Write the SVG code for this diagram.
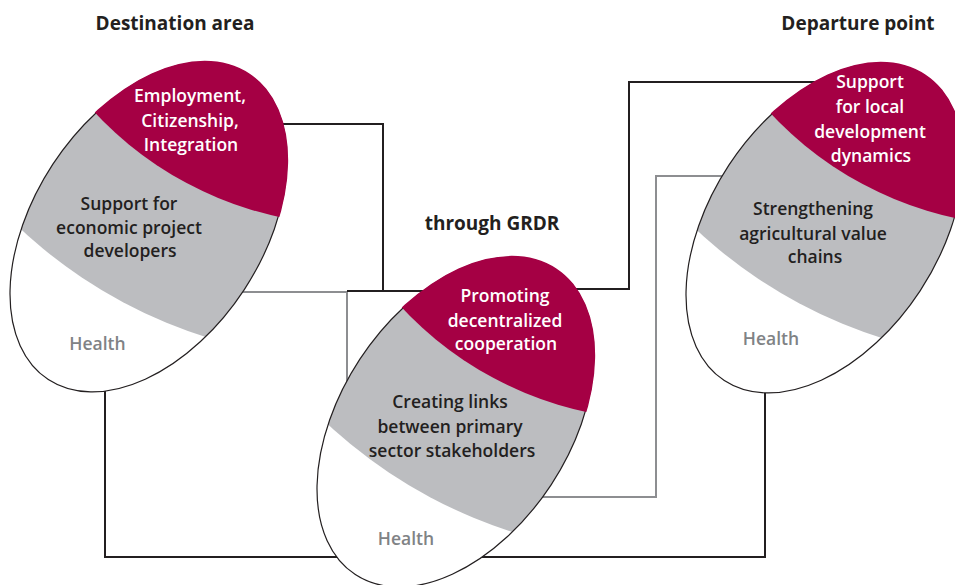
<svg xmlns="http://www.w3.org/2000/svg" width="955" height="585" viewBox="0 0 955 585">
<style>
.bg{fill:#ffffff}
.conn-k{fill:none;stroke:#231f20;stroke-width:2}
.conn-g{fill:none;stroke:#8d8e91;stroke-width:2}
.white{fill:#ffffff}
.gray{fill:#bcbdc0}
.red{fill:#a50044}
.outline{fill:none;stroke:#231f20;stroke-width:1.2}
text{font-family:"Open Sans","Noto Sans","DejaVu Sans",sans-serif;font-weight:600;text-anchor:middle}
.title{font-size:19px;font-weight:700;fill:#231f20}
.lw{font-size:17.5px;fill:#ffffff}
.ld{font-size:17.5px;fill:#231f20}
.lh{font-size:17.5px;fill:#808285}
</style>
<defs>
<clipPath id="clipE" clipPathUnits="userSpaceOnUse"><ellipse cx="0" cy="0" rx="114.4" ry="182.5" transform="rotate(33.3)"/></clipPath>
<clipPath id="clipE2" clipPathUnits="userSpaceOnUse"><ellipse cx="0" cy="0" rx="115.6" ry="183.7" transform="rotate(33.3)"/></clipPath>
<g id="egg">
<ellipse class="white" cx="0" cy="0" rx="114.4" ry="182.5" transform="rotate(33.3)"/>
<circle class="gray" cx="205.5" cy="-357" r="490" clip-path="url(#clipE)"/>
<ellipse class="outline" cx="0" cy="0" rx="114.4" ry="182.5" transform="rotate(33.3)"/>
<circle class="red" cx="205.5" cy="-357" r="355" clip-path="url(#clipE2)"/>
</g>
</defs>
<rect class="bg" x="0" y="0" width="955" height="585"/>
<g id="connectors">
<path class="conn-g" d="M200 292 H347 V420"/>
<path class="conn-k" d="M200 124 H383 V291"/>
<path class="conn-k" d="M347 291 H440"/>
<path class="conn-k" d="M500 289 H629 V82 H850"/>
<path class="conn-g" d="M830 176 H656 V497 H480"/>
<path class="conn-k" d="M765 300 V557 H105 V300"/>
</g>
<g id="titles">
<text class="title" x="175" y="30">Destination area</text>
<text class="title" x="858" y="30">Departure point</text>
<text class="title" x="492" y="230">through GRDR</text>
</g>
<g id="node-destination">
<use href="#egg" transform="translate(148.5,227)"/>
<text class="lw" x="190" y="102">Employment,</text>
<text class="lw" x="190" y="127">Citizenship,</text>
<text class="lw" x="191" y="151">Integration</text>
<text class="ld" x="129" y="210">Support for</text>
<text class="ld" x="129" y="234">economic project</text>
<text class="ld" x="130" y="257">developers</text>
<text class="lh" x="97.5" y="350">Health</text>
</g>
<g id="node-grdr">
<use href="#egg" transform="translate(455.5,422)"/>
<text class="lw" x="505" y="302">Promoting</text>
<text class="lw" x="505" y="327">decentralized</text>
<text class="lw" x="506" y="350">cooperation</text>
<text class="ld" x="450" y="408">Creating links</text>
<text class="ld" x="450" y="433">between primary</text>
<text class="ld" x="452" y="457">sector stakeholders</text>
<text class="lh" x="406" y="545">Health</text>
</g>
<g id="node-departure">
<use href="#egg" transform="translate(824.5,228)"/>
<text class="lw" x="870" y="88">Support</text>
<text class="lw" x="870" y="113">for local</text>
<text class="lw" x="870" y="138">development</text>
<text class="lw" x="871" y="162">dynamics</text>
<text class="ld" x="813" y="215">Strengthening</text>
<text class="ld" x="813" y="240">agricultural value</text>
<text class="ld" x="815" y="263">chains</text>
<text class="lh" x="771" y="345">Health</text>
</g>
</svg>
